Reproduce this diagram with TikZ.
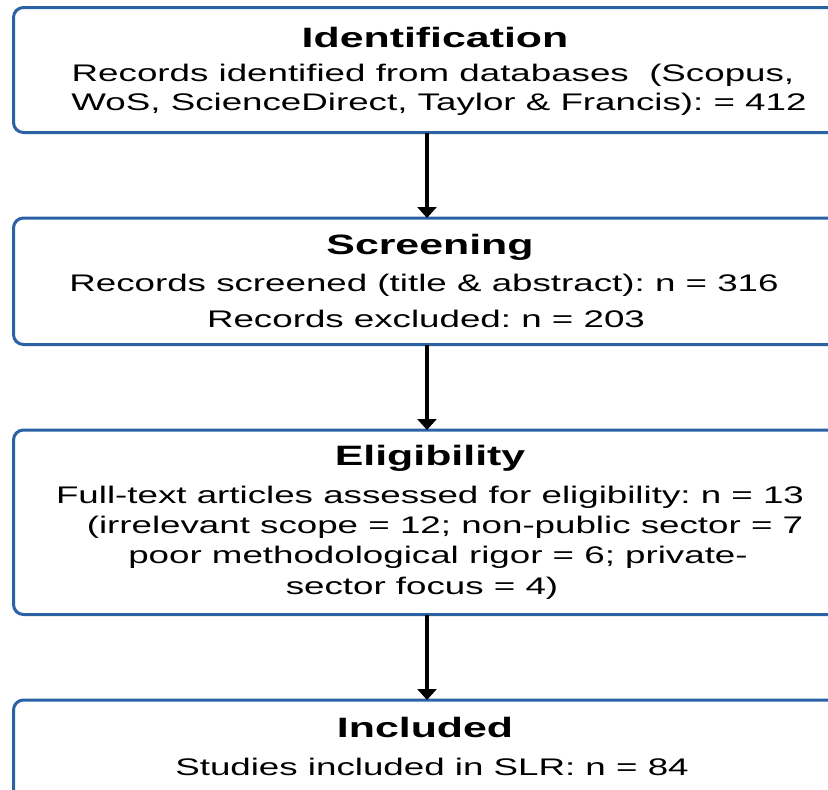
\documentclass[tikz,border=0pt]{standalone}
\usepackage{fontspec}
\setmainfont{Liberation Sans}[FakeStretch=1.53]
\usetikzlibrary{arrows.meta}
\frenchspacing
\definecolor{boxblue}{RGB}{43,98,166}
\tikzset{
  stagebox/.style={draw=boxblue, line width=3pt, rounded corners=10pt, fill=white},
  titletext/.style={font=\fontsize{28}{30}\selectfont\bfseries, inner sep=0pt, anchor=center},
  bodytext/.style={font=\fontsize{24}{30}\selectfont, inner sep=0pt, anchor=center},
  flowarrow/.style={line width=3.5pt, -{Triangle[width=19pt,length=11pt]}}
}
\begin{document}
\begin{tikzpicture}[x=1pt,y=-1pt]
\useasboundingbox (0,0) rectangle (828,790);
\clip (0,0) rectangle (828,790);
\fill[white] (0,0) rectangle (828,790);
% boxes
\draw[stagebox] (13.5,7.5) rectangle (850,132.5);
\coordinate (b1s) at (427,132.5);
\draw[stagebox] (13.5,218) rectangle (850,344.5);
\coordinate (b2n) at (427,218);
\coordinate (b2s) at (427,344.5);
\draw[stagebox] (13.5,430) rectangle (850,614.5);
\coordinate (b3n) at (427,430);
\coordinate (b3s) at (427,614.5);
\draw[stagebox] (13.5,700) rectangle (850,800);
\coordinate (b4n) at (427,700);
% texts
\node[titletext] (t1) at (435,37) {Identification};
\node[bodytext] (l11) at (433,75.5) {Records identified from databases\ \ (Scopus,};
\node[bodytext] (l12) at (439,104.5) {WoS, ScienceDirect, Taylor \& Francis): = 412};
\node[titletext] (t2) at (430,247) {Screening};
\node[bodytext] (l21) at (424,285.5) {Records screened (title \& abstract): n = 316};
\node[bodytext] (l22) at (426,319) {Records excluded: n = 203};
\node[titletext] (t3) at (430,458) {Eligibility};
\node[bodytext] (l31) at (430,497.5) {Full-text articles assessed for eligibility: n = 13};
\node[bodytext] (l32) at (445,527.5) {(irrelevant scope = 12; non-public sector = 7};
\node[bodytext] (l33) at (438,557.5) {poor methodological rigor = 6; private-};
\node[bodytext] (l34) at (422,588.5) {sector focus = 4)};
\node[titletext] (t4) at (425,727) {Included};
\node[bodytext] (l41) at (432,766.5) {Studies included in SLR: n = 84};
% arrows
\draw[flowarrow] (b1s) -- (b2n);
\draw[flowarrow] (b2s) -- (b3n);
\draw[flowarrow] (b3s) -- (b4n);
\end{tikzpicture}
\end{document}
